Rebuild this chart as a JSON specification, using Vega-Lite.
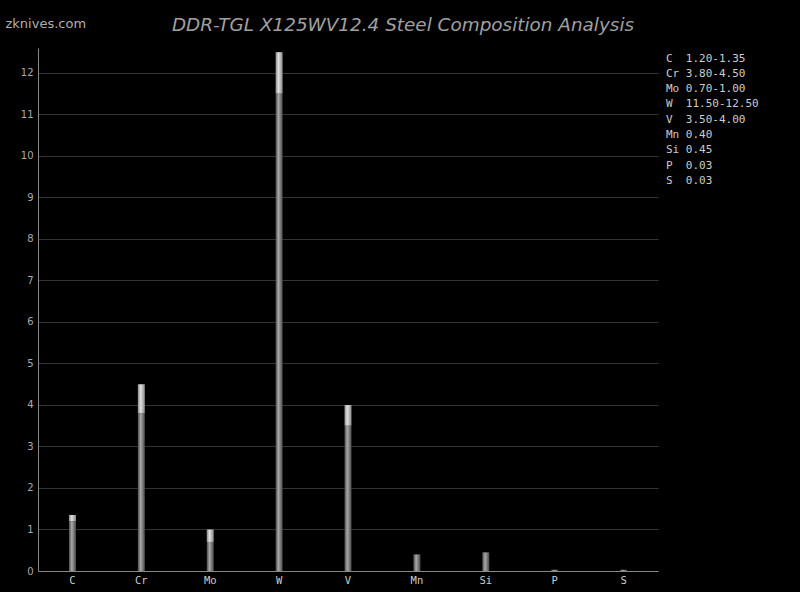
{
  "$schema": "https://vega.github.io/schema/vega-lite/v6.json",
  "width": 620,
  "height": 523,
  "autosize": {"type": "none"},
  "padding": {"left": 38, "top": 48, "right": 142, "bottom": 21},
  "background": "#000000",
  "title": {
    "text": "DDR-TGL X125WV12.4 Steel Composition Analysis",
    "font": "DejaVu Sans",
    "fontStyle": "italic",
    "fontWeight": "normal",
    "fontSize": 18.4,
    "color": "#a0a0a0",
    "anchor": "middle",
    "dx": 55,
    "dy": 31,
    "offset": 14
  },
  "config": {
    "view": {"stroke": null},
    "axisY": {
      "values": [0, 1, 2, 3, 4, 5, 6, 7, 8, 9, 10, 11, 12],
      "gridColor": "#333333",
      "domainColor": "#888888",
      "ticks": false,
      "labelPadding": 5,
      "labelColor": "#aaaaaa",
      "labelFont": "DejaVu Sans",
      "labelFontSize": 10,
      "titleAngle": 0,
      "titleAlign": "left",
      "titleBaseline": "alphabetic",
      "titleX": -33,
      "titleY": -21,
      "titleFont": "DejaVu Sans",
      "titleFontSize": 13,
      "titleFontWeight": "normal",
      "titleColor": "#b0b0b0"
    },
    "axisX": {
      "grid": false,
      "ticks": false,
      "domainColor": "#888888",
      "labelColor": "#cccccc",
      "labelFont": "DejaVu Sans Mono",
      "labelFontSize": 10.5,
      "labelPadding": 4,
      "labelAngle": 0,
      "title": null
    },
    "legend": {
      "orient": "right",
      "offset": -8,
      "padding": 5,
      "symbolSize": 0,
      "symbolOpacity": 0,
      "symbolStrokeWidth": 0,
      "labelOffset": 0,
      "labelFont": "DejaVu Sans Mono",
      "labelFontSize": 11,
      "labelColor": "#cccccc",
      "labelLimit": 300,
      "rowPadding": 3.3
    }
  },
  "data": {
    "values": [
      {"el": "C", "min": 1.2, "max": 1.35, "label": "C\u00a0\u00a01.20-1.35"},
      {"el": "Cr", "min": 3.8, "max": 4.5, "label": "Cr\u00a03.80-4.50"},
      {"el": "Mo", "min": 0.7, "max": 1.0, "label": "Mo\u00a00.70-1.00"},
      {"el": "W", "min": 11.5, "max": 12.5, "label": "W\u00a0\u00a011.50-12.50"},
      {"el": "V", "min": 3.5, "max": 4.0, "label": "V\u00a0\u00a03.50-4.00"},
      {"el": "Mn", "min": 0.4, "max": 0.4, "label": "Mn\u00a00.40"},
      {"el": "Si", "min": 0.45, "max": 0.45, "label": "Si\u00a00.45"},
      {"el": "P", "min": 0.03, "max": 0.03, "label": "P\u00a0\u00a00.03"},
      {"el": "S", "min": 0.03, "max": 0.03, "label": "S\u00a0\u00a00.03"}
    ]
  },
  "encoding": {
    "x": {"field": "el", "type": "nominal", "sort": null}
  },
  "layer": [
    {
      "mark": {
        "type": "bar",
        "size": 7,
        "fill": {
          "gradient": "linear", "x1": 0, "x2": 1, "y1": 0, "y2": 0,
          "stops": [
            {"offset": 0, "color": "#4a4a4a"},
            {"offset": 0.4, "color": "#a8a8a8"},
            {"offset": 1, "color": "#4a4a4a"}
          ]
        }
      },
      "encoding": {
        "y": {"field": "min", "type": "quantitative", "scale": {"domain": [0, 12.6], "nice": false}, "title": "zknives.com"}
      }
    },
    {
      "mark": {
        "type": "bar",
        "size": 7,
        "fill": {
          "gradient": "linear", "x1": 0, "x2": 1, "y1": 0, "y2": 0,
          "stops": [
            {"offset": 0, "color": "#8a8a8a"},
            {"offset": 0.4, "color": "#e0e0e0"},
            {"offset": 1, "color": "#8a8a8a"}
          ]
        }
      },
      "encoding": {
        "y": {"field": "max", "type": "quantitative", "title": "zknives.com"},
        "y2": {"field": "min"}
      }
    },
    {
      "mark": {"type": "point", "opacity": 0},
      "encoding": {
        "y": {"field": "min", "type": "quantitative", "title": "zknives.com"},
        "color": {"field": "label", "type": "nominal", "sort": null, "legend": {"title": null}}
      }
    }
  ]
}
